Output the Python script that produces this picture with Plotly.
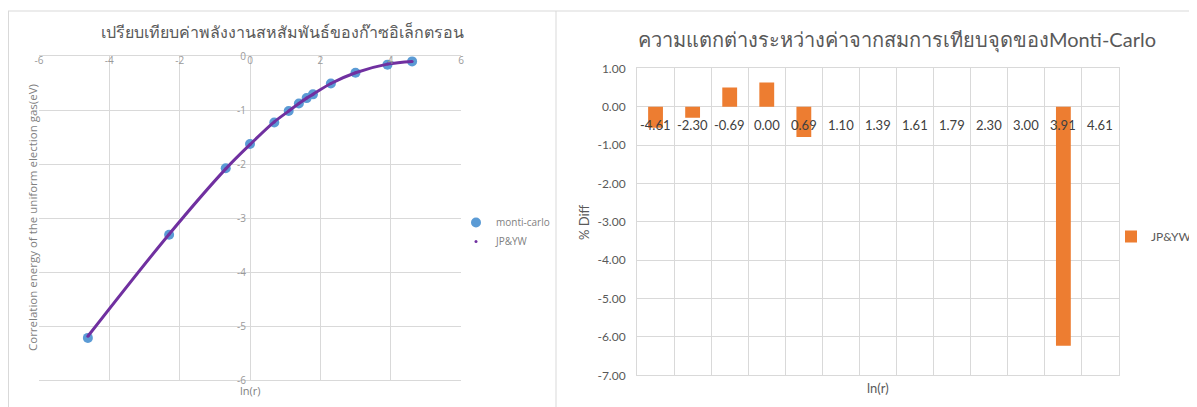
import plotly.graph_objects as go

# ---------------- data ----------------
ln_r = [-4.61, -2.30, -0.69, 0.00, 0.69, 1.10, 1.39, 1.61, 1.79, 2.30, 3.00, 3.91, 4.61]
monti_carlo = [-5.22, -3.31, -2.08, -1.63, -1.23, -1.02, -0.88, -0.78, -0.71, -0.51, -0.31, -0.16, -0.10]
jp_yw = [-5.19, -3.30, -2.09, -1.64, -1.22, -1.02, -0.88, -0.78, -0.71, -0.51, -0.31, -0.15, -0.10]

categories = ["-4.61", "-2.30", "-0.69", "0.00", "0.69", "1.10", "1.39", "1.61", "1.79", "2.30", "3.00", "3.91", "4.61"]
pct_diff = [-0.55, -0.29, 0.50, 0.63, -0.79, 0.0, 0.0, 0.0, 0.0, 0.0, 0.0, -6.23, 0.0]

left_xticks = [-6, -4, -2, 0, 2, 4, 6]
left_yticks = [0, -1, -2, -3, -4, -5, -6]
right_yticks = [1, 0, -1, -2, -3, -4, -5, -6, -7]

title_left = "เปรียบเทียบค่าพลังงานสหสัมพันธ์ของก๊าซอิเล็กตรอน"
title_right = "ความแตกต่างระหว่างค่าจากสมการเทียบจุดของMonti-Carlo"

# page is offset by the default body margin
OX, OY = 8, 8
W, H = 1197 - OX, 407 - OY
def px(x): return (x - OX) / W
def py(y): return 1 - (y - OY) / H

GRID = "#d9d9d9"
fontL = "Open Sans"
fontR = "Lato"

fig = go.Figure()

# left chart
fig.add_trace(go.Scatter(x=ln_r, y=monti_carlo, mode="markers", name="monti-carlo",
                         marker=dict(color="#5B9BD5", size=10),
                         xaxis="x", yaxis="y", legend="legend"))
fig.add_trace(go.Scatter(x=ln_r, y=jp_yw, mode="lines", name="JP&YW", showlegend=False,
                         line=dict(color="#7030A0", width=3, shape="spline"),
                         xaxis="x", yaxis="y", legend="legend"))
fig.add_trace(go.Scatter(x=ln_r, y=jp_yw, mode="markers", name="JP&YW",
                         marker=dict(color="#7030A0", size=3),
                         xaxis="x", yaxis="y", legend="legend"))

# right chart
fig.add_trace(go.Bar(x=categories, y=pct_diff, name="JP&YW",
                     marker=dict(color="#ED7D31", line=dict(width=0)),
                     xaxis="x2", yaxis="y2", legend="legend2"))

fig.update_layout(
    template="none",
    width=W, height=H, autosize=False,
    margin=dict(l=0, r=0, t=0, b=0, pad=0),
    paper_bgcolor="white", plot_bgcolor="white",
    showlegend=True,
    bargap=0.6,
    xaxis=dict(domain=[px(39), px(461)], range=[-6, 6], automargin=False,
               tickvals=left_xticks, ticktext=[str(v) for v in left_xticks],
               side="top", ticklabelposition="inside", ticklabeloverflow="allow",
               showgrid=True, gridcolor=GRID, gridwidth=1, zeroline=False,
               showline=True, linecolor=GRID, mirror=True, ticks="",
               tickfont=dict(family=fontL, size=10, color="#9a9a9a"), anchor="y"),
    yaxis=dict(domain=[py(380), py(56)], range=[-6, 0], automargin=False,
               tickvals=left_yticks, ticktext=[str(v) for v in left_yticks],
               anchor="free", position=px(250),
               showgrid=True, gridcolor=GRID, gridwidth=1, zeroline=False,
               showline=False, ticks="", ticklabelstandoff=4,
               tickfont=dict(family=fontL, size=10, color="#9a9a9a")),
    xaxis2=dict(domain=[px(637), px(1119)], type="category", tickson="boundaries",
                range=[-0.5, len(categories) - 0.5], automargin=False,
                showgrid=True, gridcolor=GRID, gridwidth=1, zeroline=False, showticklabels=False,
                showline=True, linecolor=GRID, mirror=True, ticks="", anchor="y2"),
    yaxis2=dict(domain=[py(375.3), py(68.3)], range=[-7, 1], automargin=False,
                tickvals=right_yticks, ticktext=[f"{v:.2f}" for v in right_yticks],
                showgrid=True, gridcolor=GRID, gridwidth=1, zeroline=True, zerolinecolor=GRID,
                zerolinewidth=1,
                showline=True, linecolor=GRID, mirror=True, ticks="", anchor="x2",
                ticklabelstandoff=8,
                tickfont=dict(family=fontR, size=12, color="#595959")),
    legend=dict(x=px(456), y=py(208),
                xanchor="left", yanchor="top",
                font=dict(family=fontL, size=10, color="#7f7f7f"),
                bgcolor="rgba(0,0,0,0)", itemwidth=30, tracegroupgap=0),
    legend2=dict(x=1, y=py(222),
                 xanchor="right", yanchor="top",
                 font=dict(family=fontR, size=12, color="#595959"),
                 bgcolor="rgba(0,0,0,0)", itemwidth=30),
)

annotations = [
    dict(text=title_left, x=px(282), y=py(32), xref="paper", yref="paper",
         xanchor="center", yanchor="middle",
         showarrow=False, font=dict(family=fontL, size=16, color="#595959")),
    dict(text=title_right, x=px(897), y=py(40), xref="paper", yref="paper",
         xanchor="center", yanchor="middle",
         showarrow=False, font=dict(family=fontR, size=20, color="#595959")),
    dict(text="Correlation energy of the uniform election gas(eV)", x=px(32), y=py(218),
         xref="paper", yref="paper", textangle=-90, showarrow=False,
         xanchor="center", yanchor="middle",
         font=dict(family=fontL, size=11.5, color="#7f7f7f")),
    dict(text="ln(r)", x=px(250), y=py(390), xref="paper", yref="paper", showarrow=False,
         xanchor="center", yanchor="middle",
         font=dict(family=fontL, size=11, color="#7f7f7f")),
    dict(text="% Diff", x=px(584), y=py(222), xref="paper", yref="paper", textangle=-90,
         xanchor="center", yanchor="middle",
         showarrow=False, font=dict(family=fontR, size=13, color="#595959")),
    dict(text="ln(r)", x=px(878), y=py(388), xref="paper", yref="paper", showarrow=False,
         xanchor="center", yanchor="middle",
         font=dict(family=fontR, size=13, color="#595959")),
]
for i, c in enumerate(categories):
    annotations.append(dict(text=c, x=i, y=0, xref="x2", yref="y2",
                            xanchor="center", yanchor="top",
                            yshift=-8, showarrow=False,
                            font=dict(family=fontR, size=13, color="#404040")))
fig.update_layout(annotations=annotations)

shapes = [
    dict(type="line", xref="paper", yref="paper", x0=0, x1=1, y0=py(11), y1=py(11),
         line=dict(color=GRID, width=1)),
    dict(type="line", xref="paper", yref="paper", x0=px(8.5), x1=px(8.5), y0=0, y1=py(11),
         line=dict(color=GRID, width=1)),
    dict(type="line", xref="paper", yref="paper", x0=px(556), x1=px(556), y0=0, y1=py(11),
         line=dict(color=GRID, width=1)),
]
fig.update_layout(shapes=shapes)

fig.write_html("out.html")
